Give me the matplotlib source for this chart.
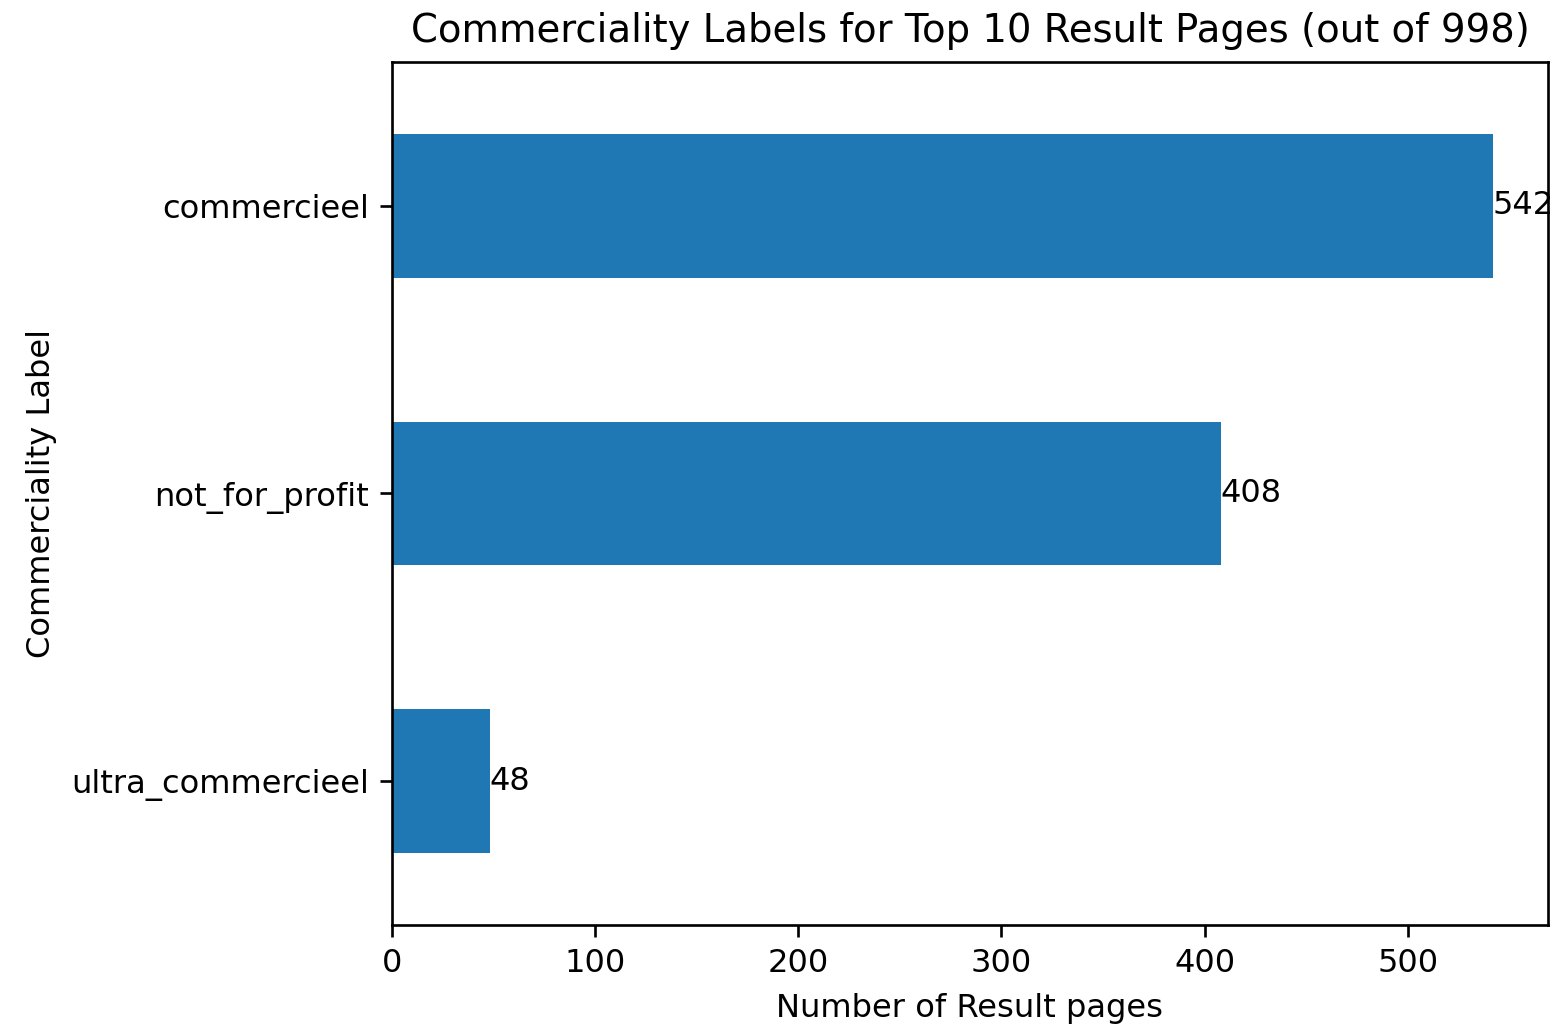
import matplotlib
matplotlib.use("Agg")
import matplotlib.pyplot as plt
import pandas as pd

# counts per commerciality label (bottom to top)
labels = ['ultra_commercieel', 'not_for_profit', 'commercieel']
counts = [48, 408, 542]
total = 998

counts_s = pd.Series(counts, index=labels)

plt.rcParams['font.size'] = 9.65

fig = plt.figure(figsize=(1552 / 240, 1026 / 240), dpi=240)
ax = fig.add_axes([392 / 1552, 1 - 925 / 1026, (1548 - 392) / 1552, (925 - 62) / 1026])

counts_s.plot.barh(ax=ax, color='#1f77b4')
ax.bar_label(ax.containers[0])

ax.set_title(f'Commerciality Labels for Top 10 Result Pages (out of {total})')
ax.set_xlabel('Number of Result pages')
ax.set_ylabel('Commerciality Label')

fig.savefig('out.png', dpi=240)
